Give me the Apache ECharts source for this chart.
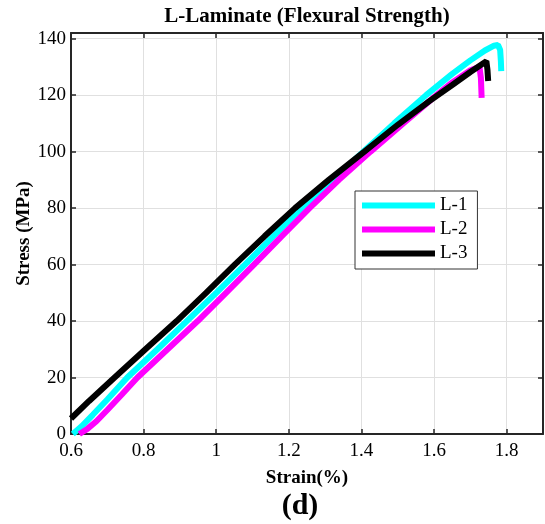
<!DOCTYPE html>
<html>
<head>
<meta charset="utf-8">
<script src="https://cdn.jsdelivr.net/npm/echarts@6/dist/echarts.min.js"></script>
<style>
  html, body { margin: 0; padding: 0; background: #fff; }
  #chart { width: 545px; height: 524px; }
</style>
</head>
<body>
<div id="chart"></div>
<script>
// Flexural test curves, stress (MPa) vs strain (%), three L-laminate specimens
const seriesNames = ['L-1', 'L-2', 'L-3'];

const l1Strain = [0.605, 0.63, 0.66, 0.70, 0.755, 0.838, 0.919, 1.00, 1.079, 1.157, 1.236, 1.32, 1.405, 1.49, 1.578, 1.65, 1.70, 1.74, 1.765, 1.776, 1.782, 1.784, 1.785];
const l1Stress = [0, 2.8, 6.8, 12.2, 20, 30, 40, 50, 60, 70, 80, 90, 100, 110, 120, 127.5, 132.3, 135.8, 137.5, 137.8, 136, 132, 128.5];

const l2Strain = [0.623, 0.645, 0.67, 0.70, 0.74, 0.783, 0.866, 0.949, 1.027, 1.104, 1.18, 1.257, 1.338, 1.425, 1.515, 1.60, 1.65, 1.70, 1.725, 1.729, 1.731];
const l2Stress = [0, 1.8, 4.5, 8.5, 14, 20, 30, 40, 50, 60, 70, 80, 90, 100, 110, 119.3, 124.5, 128.8, 130, 126, 119];

const l3Strain = [0.60, 0.65, 0.72, 0.805, 0.891, 0.972, 1.051, 1.133, 1.217, 1.31, 1.408, 1.50, 1.586, 1.65, 1.70, 1.744, 1.747, 1.749];
const l3Stress = [5.5, 11.7, 20, 30, 40, 50, 60, 70, 80, 90, 100, 109.5, 117.8, 123.6, 128.2, 132, 129, 125];

const xMin = 0.6, xMax = 1.9, xStep = 0.2;
const yMin = 0, yMax = 142, yStep = 20;

const seriesColors = ['#00ffff', '#ff00ff', '#000000'];

const serif = '"Liberation Serif", "Times New Roman", serif';
const axisColor = '#262626';
const gridColor = '#e0e0e0';

function pairs(xs, ys) {
  return xs.map((x, i) => [x, ys[i]]);
}

const curves = [pairs(l1Strain, l1Stress), pairs(l2Strain, l2Stress), pairs(l3Strain, l3Stress)];

const chart = echarts.init(document.getElementById('chart'), null, { renderer: 'canvas' });

const tickStyle = { inside: true, length: 5, lineStyle: { color: axisColor, width: 1.5 } };
const lineStyle = { show: true, onZero: false, lineStyle: { color: axisColor, width: 2 } };

chart.setOption({
  animation: false,
  backgroundColor: '#fff',
  grid: { left: 71, right: 2, top: 33, bottom: 90, containLabel: false },
  xAxis: [
    {
      type: 'value', position: 'bottom', min: xMin, max: xMax, interval: xStep,
      axisLine: lineStyle, axisTick: tickStyle,
      splitLine: { show: true, lineStyle: { color: gridColor, width: 1 } },
      axisLabel: { fontFamily: serif, fontSize: 19, color: '#000', margin: 8, showMaxLabel: false },
      name: 'Strain(%)', nameLocation: 'middle', nameGap: 35, nameMoveOverlap: false,
      nameTextStyle: { fontFamily: serif, fontSize: 19, fontWeight: 'bold', color: '#000' }
    },
    {
      type: 'value', position: 'top', min: xMin, max: xMax, interval: xStep,
      axisLine: lineStyle, axisTick: tickStyle,
      splitLine: { show: false }, axisLabel: { show: false }
    }
  ],
  yAxis: [
    {
      type: 'value', position: 'left', min: yMin, max: yMax, interval: yStep,
      axisLine: lineStyle, axisTick: tickStyle,
      splitLine: { show: true, lineStyle: { color: gridColor, width: 1 } },
      axisLabel: { fontFamily: serif, fontSize: 19, color: '#000', margin: 5, showMaxLabel: false },
      name: 'Stress (MPa)', nameLocation: 'middle', nameGap: 37, nameRotate: 90, nameMoveOverlap: false,
      nameTextStyle: { fontFamily: serif, fontSize: 19, fontWeight: 'bold', color: '#000' }
    },
    {
      type: 'value', position: 'right', min: yMin, max: yMax, interval: yStep,
      axisLine: lineStyle, axisTick: tickStyle,
      splitLine: { show: false }, axisLabel: { show: false }
    }
  ],
  legend: {
    data: seriesNames,
    orient: 'vertical',
    left: 355, top: 191,
    icon: 'rect', itemWidth: 73, itemHeight: 6, itemGap: 5,
    padding: [5, 10, 6, 7],
    borderColor: '#333', borderWidth: 1, backgroundColor: '#fff',
    textStyle: { fontFamily: serif, fontSize: 19, color: '#000', padding: [0, 0, 0, 0] }
  },
  graphic: [
    {
      type: 'text', x: 307, y: 17,
      style: { text: 'L-Laminate (Flexural Strength)', font: 'bold 21px ' + serif, fill: '#000', textAlign: 'center', textVerticalAlign: 'middle' }
    },
    {
      type: 'text', x: 300, y: 506,
      style: { text: '(d)', font: 'bold 30px ' + serif, fill: '#000', textAlign: 'center', textVerticalAlign: 'middle' }
    }
  ],
  series: curves.map((data, i) => ({
    name: seriesNames[i],
    type: 'line',
    data: data,
    xAxisIndex: 0, yAxisIndex: 0,
    showSymbol: false, symbol: 'none',
    lineStyle: { color: seriesColors[i], width: 6 },
    itemStyle: { color: seriesColors[i] },
    z: 2 + i
  }))
});
</script>
</body>
</html>
